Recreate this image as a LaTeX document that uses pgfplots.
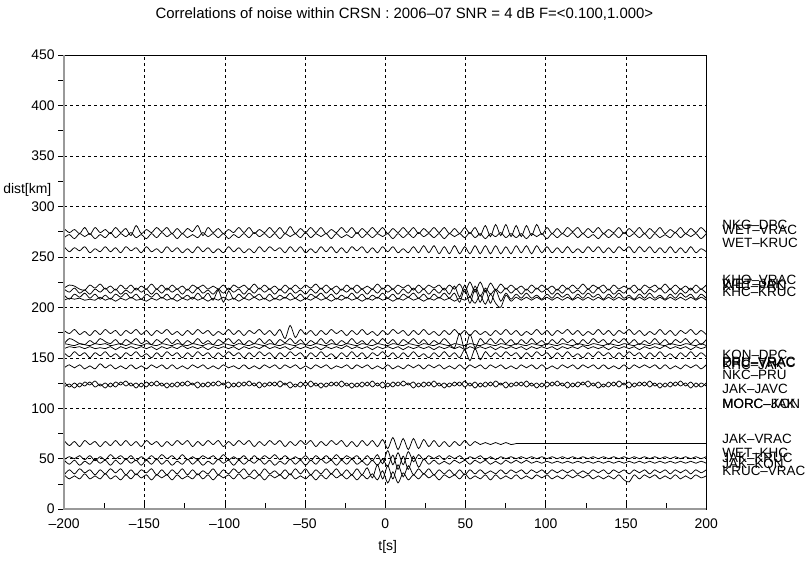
\documentclass[border=0pt]{standalone}
\usepackage{pgfplots}
\usepackage{pgfplotstable}
\usepackage{fontspec}
\setmainfont{Liberation Sans}
\pgfplotsset{compat=1.18}

% offsets (km) of each trace from its distance, sampled every 3.2 s
\pgfplotstableread{
t A B C D E F G H I J K L M N O P Q R S T
-200 2 -2 3 -1 2 1 -1 2 -2 1 -1 2 -1 2 -2 3 -2 2 -3 2
-196.8 -2 1 -2 2 -1 -3 1 -1 3 0 1 -2 2 -3 1 -2 1 -2 2 -2
-193.6 1 -3 2 1 3 2 0 3 1 -1 0 3 -1 1 -3 2 -1 2 -2 1
-190.4 -3 2 -1 -2 -2 -1 1 -2 -2 1 1 -1 2 -3 2 -3 2 -3 3 -2
-187.2 3 -1 3 -3 1 3 -1 1 -3 0 -1 2 -2 2 -1 3 -2 1 -1 3
-184 -4 2 -3 2 -3 -2 0 -3 1 -1 1 -3 1 -1 3 -1 2 -2 2 -2
-180.8 3 -3 1 -1 2 2 -1 2 -2 1 -1 2 -2 3 -2 2 -3 3 -3 1
-177.6 -2 1 -2 3 -1 -3 2 -2 3 0 0 -1 3 -2 1 -3 1 -1 2 -2
-174.4 1 -2 3 -2 3 1 -1 3 0 1 -1 3 -1 1 -3 2 -2 2 -2 3
-171.2 -3 3 -2 1 -2 -3 1 -1 -2 -1 1 -2 2 -3 2 -2 3 -3 3 -2
-168 3 -2 2 -3 2 2 -2 2 2 0 -2 1 -2 2 -2 3 -1 2 -1 1
-164.8 -2 2 -3 2 -3 -1 1 -3 -3 1 1 -3 1 -1 3 -2 2 -2 3 -3
-161.6 2 -1 3 -2 1 3 -1 2 2 -1 -1 2 -2 3 -1 3 -2 3 -3 2
-158.4 -5 3 -1 2 -2 -2 2 -1 -1 1 1 -1 2 -2 2 -2 2 -1 2 -2
-155.2 5 -2 2 -3 3 2 -1 3 3 0 -1 3 -2 1 -3 2 -3 2 -3 3
-152 -3 1 -3 1 -1 -3 0 -2 -2 -1 1 -2 1 -3 2 -3 1 -3 2 -1
-148.8 1 -3 3 -2 2 2 -2 2 1 1 -1 1 -2 2 -2 3 -2 2 -1 2
-145.6 -2 2 -2 3 -3 -1 1 -3 -3 0 1 -3 2 -2 3 -1 2 -2 3 -3
-142.4 3 -2 1 -2 2 3 -1 2 2 -1 -2 2 -1 3 -1 2 -2 3 -3 2
-139.2 -1 3 -3 2 -2 -2 2 -1 -1 1 1 -2 2 -2 2 -3 3 -2 2 -1
-136 3 -1 3 -3 3 2 -1 3 3 0 -1 3 -2 1 -3 2 -1 2 -3 2
-132.8 -3 2 -2 2 -1 -3 1 -2 -2 -1 1 -1 2 -3 2 -2 2 -3 2 -3
-129.6 2 -3 2 -2 2 2 -2 1 2 1 -1 2 -2 2 -2 3 -2 1 -2 2
-126.4 -3 2 -3 1 -3 -2 1 -3 -3 0 2 -3 1 -2 3 -1 3 -2 3 -2
-123.2 2 -2 1 -3 2 1 -1 2 1 -1 -1 2 -2 3 -1 3 -2 3 -3 1
-120 -1 1 -3 2 -2 -3 2 -2 -2 1 1 -2 2 -1 2 -3 1 -2 2 -2
-116.8 5 -2 3 -1 3 3 -1 3 3 0 -1 3 -1 2 -3 2 -2 2 -3 3
-113.6 -5 3 -2 2 -2 -2 1 -1 -2 -1 1 -1 2 -3 2 -2 2 -3 1 -2
-110.4 3 -1 2 -2 1 3 -2 2 1 1 -2 2 -2 2 -2 3 -1 1 -2 2
-107.2 -2 2 -3 1 -3 -4 1 -3 -3 0 1 -3 1 -2 3 -1 2 -2 3 -3
-104 2 -2 1 -2 2 6 -1 1 2 -1 -1 2 -2 3 -1 3 -2 3 -3 2
-100.8 -3 2 -3 2 -2 -6 2 -2 -1 1 1 -2 2 -1 2 -3 3 -1 2 -1
-97.6 1 -3 3 -3 3 5 -1 3 3 0 -1 3 -1 2 -3 2 -2 2 -2 2
-94.4 -2 1 -2 2 -1 -3 1 -2 -2 -1 1 -1 1 -3 2 -2 1 -3 3 -2
-91.2 3 -2 2 -1 2 2 -2 2 2 1 -2 2 -2 2 -2 3 -2 2 -1 3
-88 -2 2 -3 2 -3 -2 1 -3 -3 0 1 -3 2 -2 3 -1 2 -2 3 -2
-84.8 3 -2 1 -2 2 3 -1 2 1 -1 -1 2 -2 3 -1 3 -3 2 -3 1
-81.6 -3 3 -3 3 -2 -1 2 -1 -2 1 1 -2 1 -2 2 -3 2 -1 2 -2
-78.4 1 -1 3 -2 3 2 -1 3 3 0 -1 3 -2 2 -3 2 -2 3 -3 2
-75.2 -2 2 -2 2 -1 -3 1 -2 -2 -1 2 -1 2 -3 2 -2 2 -2 3 -3
-72 3 -2 3 -2 2 2 -2 2 2 1 -1 2 -1 2 -1 3 -1 2 -2 2
-68.8 -2 2 -1 1 -3 -3 1 -3 -3 0 1 -3 2 -2 3 -1 3 -3 1 -1
-65.6 3 -3 2 -3 2 1 -1 3 2 -1 -1 2 -2 3 -2 3 -2 1 -3 2
-62.4 -3 2 -3 2 -2 -2 2 -6 -1 1 1 -2 2 -1 2 -3 2 -2 2 -2
-59.2 4 -1 3 -2 3 3 -1 7 3 0 -2 3 -1 2 -3 2 -2 3 -3 3
-56 -3 2 -2 2 -2 -2 1 -5 -2 -1 1 -1 2 -3 1 -2 1 -2 3 -2
-52.8 2 -2 3 -2 1 2 -2 3 2 1 -1 2 -2 2 -2 3 -2 2 -2 1
-49.6 -2 3 -3 2 -3 -3 1 -2 -3 0 1 -3 1 -2 3 -1 2 -3 3 -2
-46.4 3 -2 1 -1 2 2 -1 2 1 -1 -1 2 -2 3 -2 3 -3 2 -3 2
-43.2 -2 2 -3 3 -2 -1 2 -3 -2 1 1 -2 2 -2 2 -3 2 -2 2 -3
-40 3 -1 3 -2 3 3 -1 2 3 0 -2 3 -1 1 -3 2 -2 3 -2 2
-36.8 -3 2 -2 2 -2 -2 1 -2 -2 -1 1 -2 2 -3 2 -2 2 -1 3 -2
-33.6 1 -3 3 -2 2 2 -2 3 2 1 -1 1 -2 2 -1 3 -2 2 -2 3
-30.4 -2 2 -3 1 -3 -3 1 -1 -3 0 1 -3 1 -2 3 -1 3 -3 3 -1
-27.2 3 -2 2 -3 2 1 -1 2 1 -1 -1 2 -1 3 -2 3 -2 2 -3 2
-24 -2 1 -3 2 -1 -2 2 -3 -2 1 2 -2 2 -2 2 -3 2 -2 2 -2
-20.8 3 -2 3 -2 3 3 -1 2 3 0 -1 3 -2 1 -3 2 -1 3 -3 2
-17.6 -3 3 -1 2 -2 -2 1 -2 -2 -1 1 -2 2 -3 2 -3 2 -2 3 -3
-14.4 2 -2 3 -2 2 2 -2 3 1 1 -1 2 -1 2 -2 3 -3 1 -3 2
-11.2 -2 2 -3 1 -3 -3 1 -2 -3 0 1 -3 2 -2 3 -2 2 -3 4 -2
-8 3 -2 2 -2 2 1 -1 1 2 -1 -2 2 -2 3 -2 3 -3 2 -6 3
-4.8 -2 2 -3 3 -2 -2 2 -3 -2 1 1 -1 1 -2 2 -3 3 -3 7 -3
-1.6 3 -1 3 -2 3 3 -1 2 3 0 -1 3 -2 2 -3 4 -6 3 -7 6
1.6 -3 2 -2 2 -1 -2 1 -2 -2 -1 1 -2 2 -3 2 -5 7 -4 6 -6
4.8 2 -3 3 -2 2 2 -2 3 2 1 -1 2 -2 2 -2 6 -7 7 -7 5
8 -2 2 -3 2 -3 -3 1 -1 -3 0 1 -3 1 -2 3 -6 5 -7 7 -6
11.2 3 -2 1 -1 2 2 -1 2 2 -1 -2 2 -2 3 -1 5 -7 6 -5 4
14.4 -2 2 -3 2 -2 -1 2 -3 -1 1 1 -2 2 -1 2 -6 6 -7 6 -3
17.6 3 -2 3 -3 3 3 -1 2 3 0 -1 3 -1 2 -3 5 -4 6 -3 2
20.8 -3 3 -3 2 -2 -2 1 -2 -2 -1 1 -2 2 -3 2 -5 3 -5 3 -2
24 2 -1 4 -2 2 2 -2 3 2 1 -1 1 -2 2 -2 4 -2 3 -2 3
27.2 -2 2 -3 2 -3 -3 1 -2 -3 0 1 -3 2 -2 3 -3 2 -2 3 -1
30.4 3 -2 4 -1 2 2 -1 1 1 -1 -2 2 -1 3 -2 3 -1 2 -3 2
33.6 -2 2 -4 2 -2 -2 2 -3 -2 1 1 -2 2 -2 2 -3 2 -2 2 -3
36.8 3 -3 3 -3 3 3 -1 2 3 0 -1 3 -2 1 -3 2 -2 1 -2 2
40 -3 2 -4 2 -3 -2 1 -2 -2 -1 1 -2 1 -3 2 -3 2 -2 2 -1
43.2 2 -1 4 -2 5 3 -2 3 -6 1 -1 2 -2 2 -1 2 -1 2 -3 2
46.4 -3 2 -4 3 -6 -6 1 -2 8 0 1 -3 2 -2 3 -2 2 -1 2 -2
49.6 3 -2 3 -5 6 7 -1 2 -8 -1 -2 5 -2 3 -2 3 -2 2 -3 3
52.8 -3 3 -4 5 -6 -7 2 -3 7 1 1 -6 2 -2 2 -2 1 -2 2 -2
56 3 -2 4 -5 5 7 -4 2 -6 0 -1 6 -1 2 -3 2 -1 2 -2 1
59.2 -5 2 -4 5 -5 -6 4 -2 3 -1 1 -5 2 -3 2 -1 2 -1 2 -2
62.4 5 -3 4 -5 3 6 -5 1 -2 1 -1 3 -2 2 -2 1 -2 2 -2 2
65.6 -6 2 -4 4 -3 -7 5 -3 3 0 1 -2 2 -2 3 -1 1 -2 1 -3
68.8 6 -1 4 -3 2 6 -4 2 -2 -1 -2 2 -1 3 -2 1 -2 1 -2 2
72 -5 3 -4 3 -2 -5 -8 -2 3 1 1 -2 2 -1 2 -1 1 -2 2 -2
75.2 6 -2 3 -2 3 3 4 3 -2 0 -1 3 -2 2 -3 1 -1 2 -2 1
78.4 -6 2 -4 2 -2 -3 -2 -2 2 -1 1 -1 1 -3 2 -1 1 -1 2 -2
81.6 5 -2 4 -2 2 2 2 2 -3 1 -1 2 -2 2 -1 0 -1 2 -1 2
84.8 -6 2 -3 1 -3 -2 -1 -3 2 0 1 -3 2 -2 3 0 1 -1 2 -2
88 5 -3 4 -3 2 3 2 1 -2 -1 -2 2 -1 3 -2 0 -1 2 -2 1
91.2 -5 2 -4 2 -2 -2 -1 -2 3 1 1 -2 2 -2 2 0 1 -1 2 -2
94.4 6 -1 4 -2 3 1 2 3 -2 0 -1 3 -2 1 -3 0 -1 1 -1 2
97.6 -4 2 -3 2 -1 -3 -1 -2 1 -1 1 -1 2 -3 2 0 1 -1 2 -1
100.8 3 -3 3 -2 2 2 2 2 -3 1 -1 2 -2 2 -2 0 -1 1 -2 2
104 -3 2 -3 1 -3 -2 -1 -3 2 0 1 -3 1 -2 3 0 1 -1 2 -2
107.2 2 -2 2 -3 2 3 2 2 -2 -1 -2 2 -2 3 -1 0 -1 1 -1 1
110.4 -3 2 -3 2 -2 -1 -1 -1 3 1 1 -2 2 -2 2 0 1 -1 2 -2
113.6 3 -1 3 -2 3 2 2 3 -1 0 -1 3 -1 2 -3 0 -1 1 -1 2
116.8 -1 3 -3 2 -2 -3 -1 -2 2 -1 1 -2 2 -3 2 0 1 -1 2 -1
120 3 -2 1 -2 1 2 2 2 -3 1 -1 1 -2 2 -2 0 -1 1 -2 2
123.2 -3 2 -3 3 -3 -2 -1 -3 2 0 2 -3 2 -1 3 0 1 -1 1 -1
126.4 2 -2 3 -2 2 3 2 1 -2 -1 -1 2 -1 3 -2 0 -1 1 -2 2
129.6 -2 1 -2 2 -2 -1 -1 -2 3 1 1 -2 2 -2 2 0 1 -1 2 -2
132.8 3 -3 3 -1 3 2 2 3 -1 0 -1 3 -2 2 -3 0 -1 1 -1 1
136 -3 2 -3 2 -2 -3 -1 -2 2 -1 1 -1 2 -3 1 0 1 -1 2 -2
139.2 1 -2 2 -3 2 2 2 2 -3 1 -2 2 -2 2 -2 0 -1 1 -2 1
142.4 -2 2 -3 2 -3 -2 -1 -3 2 0 1 -3 1 -2 3 0 1 -1 2 -2
145.6 3 -2 3 -2 1 3 2 2 -1 -1 -1 2 -2 3 -2 0 -1 1 -1 2
148.8 -3 3 -1 1 -2 -2 -1 -1 3 1 1 -2 2 -1 2 0 1 -1 2 -3
152 2 -1 3 -2 3 1 2 3 -2 0 -1 3 -2 2 -3 0 -1 1 -2 -5
155.2 -2 2 -3 2 -2 -3 -1 -2 2 -1 1 -1 2 -3 2 0 1 -1 2 2
158.4 3 -2 3 -3 2 2 2 2 -3 1 -2 2 -1 2 -1 0 -1 1 -1 -2
161.6 -3 2 -2 2 -3 -2 -1 -3 1 0 1 -3 2 -2 3 0 1 -1 2 2
164.8 2 -3 3 -1 2 3 2 1 -2 -1 -1 2 -1 3 -2 0 -1 1 -2 -1
168 -2 2 -3 2 -1 -2 -1 -2 3 1 1 -2 2 -2 2 0 1 -1 2 2
171.2 3 -2 2 -2 3 1 2 3 -2 0 -1 3 -2 1 -3 0 -1 1 -1 -2
174.4 -3 1 -3 3 -2 -3 -1 -2 2 -1 2 -2 2 -3 2 0 1 -1 2 1
177.6 1 -2 3 -2 2 2 2 2 -3 1 -1 1 -2 2 -2 0 -1 1 -2 -2
180.8 -2 3 -3 2 -3 -2 -1 -3 2 0 1 -3 1 -2 3 0 1 -1 2 2
184 3 -2 2 -2 2 3 2 2 -1 -1 -1 2 -2 3 -1 0 -1 1 -1 -2
187.2 -3 2 -3 1 -2 -1 -1 -1 3 1 1 -2 2 -2 2 0 1 -1 2 1
190.4 2 -1 3 -3 3 2 2 3 -2 0 -2 3 -1 2 -3 0 -1 1 -2 -2
193.6 -2 2 -3 2 -2 -3 -1 -2 2 -1 1 -2 2 -3 2 0 1 -1 2 2
196.8 3 -3 1 -2 2 2 2 2 -3 1 -1 2 -2 1 -2 0 -1 1 -1 -1
200 -2 2 -2 2 -2 -2 -1 -2 2 -1 1 -2 2 -2 2 0 1 -1 2 1
}\traces

\begin{document}
\begin{tikzpicture}
\begin{axis}[
  scale only axis, width=643bp, height=455bp,
  xmin=-200, xmax=200, ymin=0, ymax=450,
  xtick={-200,-150,...,200},
  xticklabels={\textendash200,\textendash150,\textendash100,\textendash50,0,50,100,150,200},
  ytick={0,50,...,450},
  yticklabels={0,50,100,150,200,250,300,350,400,450},
  minor x tick num=1, minor y tick num=1,
  tick pos=left, tick align=outside,
  major tick length=6bp, minor tick length=6bp,
  x tick style={yshift=6bp},
  tick style={black, thin},
  tick label style={font=\fontsize{14}{16}\selectfont},
  grid=major,
  grid style={black, thin, dash pattern=on 3bp off 3bp},
  axis line style={black, thin},
  clip=false,
  trace/.style={black, line width=0.75bp, smooth},
]
\addplot[trace] table[x=t, y expr=\thisrow{A}+276] {\traces};
\addplot[trace] table[x=t, y expr=\thisrow{B}+271] {\traces};
\addplot[trace] table[x=t, y expr=\thisrow{C}+257] {\traces};
\addplot[trace] table[x=t, y expr=\thisrow{D}+220] {\traces};
\addplot[trace] table[x=t, y expr=\thisrow{E}+216] {\traces};
\addplot[trace] table[x=t, y expr=\thisrow{F}+211] {\traces};
\addplot[trace] table[x=t, y expr=\thisrow{G}+208] {\traces};
\addplot[trace] table[x=t, y expr=\thisrow{H}+175] {\traces};
\addplot[trace] table[x=t, y expr=\thisrow{I}+166] {\traces};
\addplot[trace] table[x=t, y expr=\thisrow{J}+163] {\traces};
\addplot[trace] table[x=t, y expr=\thisrow{K}+160] {\traces};
\addplot[trace] table[x=t, y expr=\thisrow{L}+153] {\traces};
\addplot[trace] table[x=t, y expr=\thisrow{M}+141] {\traces};
\addplot[trace] table[x=t, y expr=\thisrow{N}+124] {\traces};
\addplot[trace] table[x=t, y expr=\thisrow{O}+123] {\traces};
\addplot[trace] table[x=t, y expr=\thisrow{P}+65] {\traces};
\addplot[trace] table[x=t, y expr=\thisrow{Q}+51] {\traces};
\addplot[trace] table[x=t, y expr=\thisrow{R}+46.5] {\traces};
\addplot[trace] table[x=t, y expr=\thisrow{S}+37] {\traces};
\addplot[trace] table[x=t, y expr=\thisrow{T}+32] {\traces};

\draw[gray!80, line width=1.6bp] (rel axis cs:0,1) -- (rel axis cs:0,0) -- (rel axis cs:1,0);

\begin{scope}[every node/.style={anchor=west, inner sep=0pt, font=\fontsize{13.5}{15}\selectfont}]
\node at (axis cs:210,282) {NKG\textendash DPC};
\node at (axis cs:210,277) {WET\textendash VRAC};
\node at (axis cs:210,264) {WET\textendash KRUC};
\node at (axis cs:210,227.5) {KHO\textendash VRAC};
\node at (axis cs:210,223.5) {WET\textendash JAK};
\node at (axis cs:210,221) {KHC\textendash PRU};
\node at (axis cs:210,215.5) {KHC\textendash KRUC};
\node at (axis cs:210,153) {KON\textendash DPC};
\node at (axis cs:210,146) {PRU\textendash VRAC};
\node at (axis cs:210,145) {DPC\textendash VRAC};
\node at (axis cs:210,142.5) {KHC\textendash JAK};
\node at (axis cs:210,133) {NKC\textendash PRU};
\node at (axis cs:210,119) {JAK\textendash JAVC};
\node at (axis cs:210,104) {MORC\textendash KON};
\node at (axis cs:210,104.5) {MORC\textendash JAK};
\node at (axis cs:210,70) {JAK\textendash VRAC};
\node at (axis cs:210,56) {WET\textendash KHC};
\node at (axis cs:210,50.5) {JAK\textendash KRUC};
\node at (axis cs:210,44.5) {JAK\textendash KON};
\node at (axis cs:210,37.5) {KRUC\textendash VRAC};
\end{scope}

\node[font=\fontsize{15}{17}\selectfont] at (axis cs:12,490) {Correlations of noise within CRSN : 2006\textendash 07 SNR = 4 dB F=<0.100,1.000>};
\node[font=\fontsize{14}{16}\selectfont] at (axis cs:1.6,-37.6) {t[s]};
\node[font=\fontsize{14}{16}\selectfont] at (axis cs:-223,316.5) {dist[km]};

\path (rel axis cs:0,0) ++(-63bp,-52bp) rectangle ++(809bp,562bp);
\end{axis}
\end{tikzpicture}
\end{document}
